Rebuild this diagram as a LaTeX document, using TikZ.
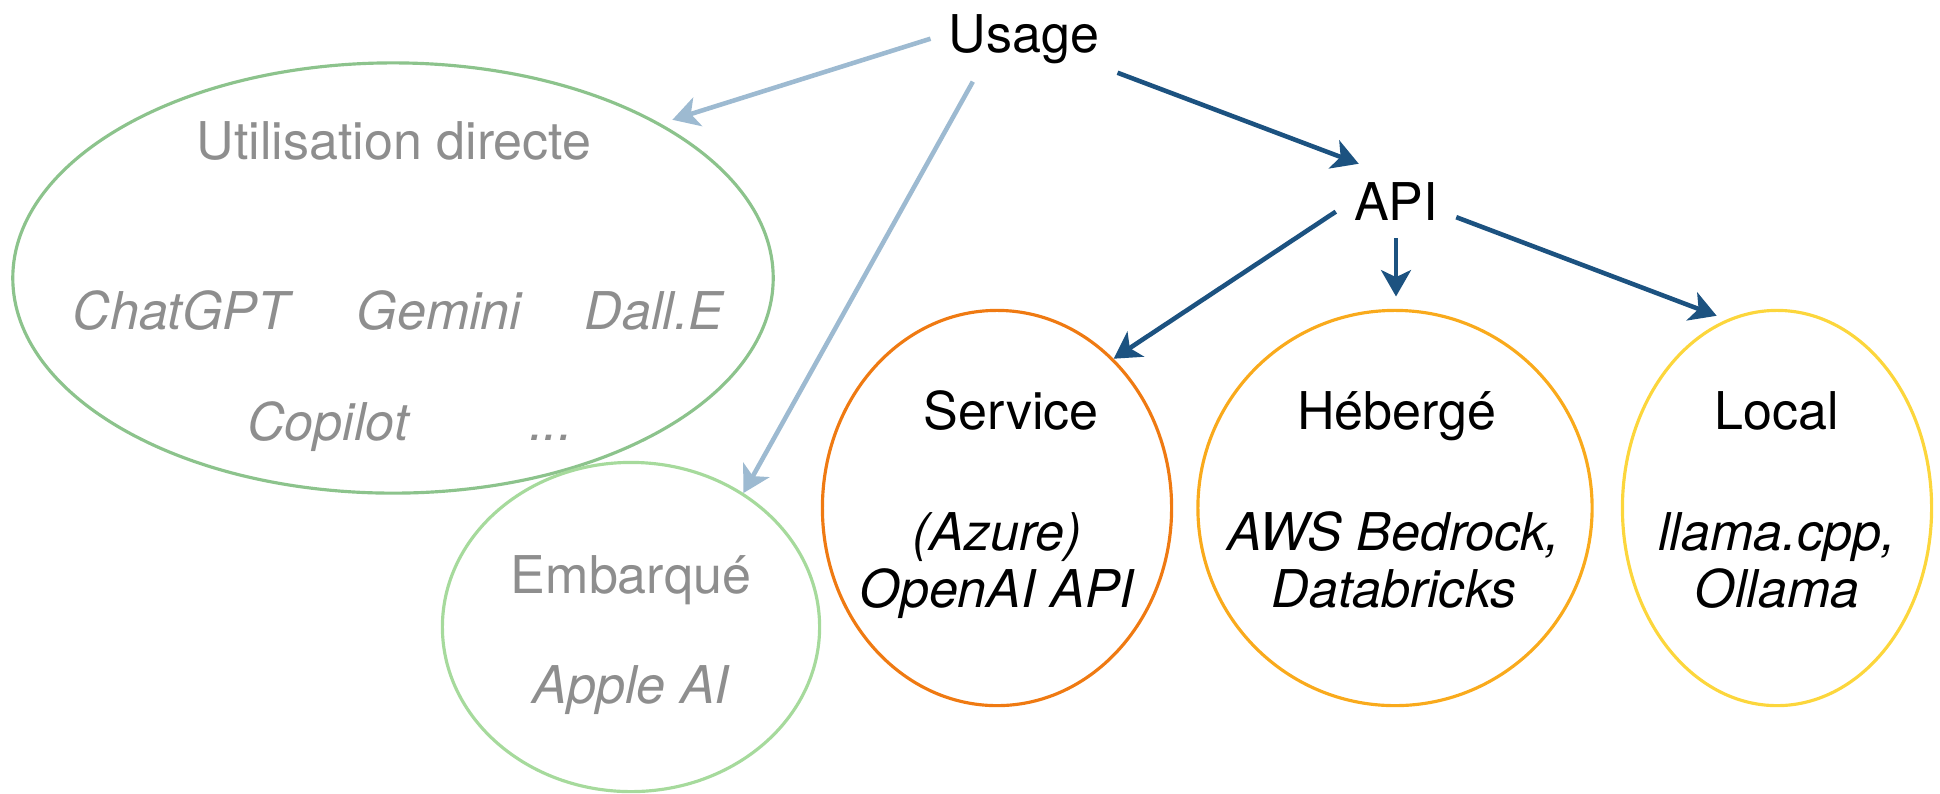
\documentclass[tikz,border=0pt]{standalone}
\usepackage{fontspec}
\setmainfont{TeX Gyre Heros}
\usetikzlibrary{shapes.geometric,arrows.meta}
\definecolor{txtgrey}{HTML}{8E8E8E}
\definecolor{directgreen}{HTML}{8CC38C}
\definecolor{embgreen}{HTML}{A6DA9C}
\definecolor{servorange}{HTML}{EF7A12}
\definecolor{hostorange}{HTML}{F9AA1C}
\definecolor{localyellow}{HTML}{FCD63C}
\definecolor{arrowlight}{HTML}{9DBAD1}
\definecolor{arrowdark}{HTML}{1C5280}

\begin{document}
\begin{tikzpicture}[x=0.01cm,y=-0.01cm,
  lbl/.style={font=\fontsize{14.8}{16.2}\selectfont,anchor=base,align=center,inner sep=0pt},
  faint/.style={lbl,text=txtgrey},
  slant/.style={font=\fontsize{14.8}{16.2}\selectfont\itshape},
  head/.style={font=\fontsize{14.8}{16.2}\selectfont,anchor=base,inner sep=5pt},
  ring/.style={ellipse,draw=#1,line width=0.9pt,inner sep=0pt},
  lite/.style={-{Stealth[length=7.5pt,width=8.5pt,inset=2pt]},draw=arrowlight,line width=1.3pt},
  dark/.style={-{Stealth[length=7.5pt,width=8.5pt,inset=2pt]},draw=arrowdark,line width=1.3pt}]
\useasboundingbox (0,0) rectangle (1940,793);

\node[ring=directgreen,minimum width=7.6cm,minimum height=4.3cm] (util) at (393,278) {};
\node[ring=embgreen,minimum width=3.77cm,minimum height=3.29cm] (emb) at (631,627) {};
\node[ring=servorange,minimum width=3.49cm,minimum height=3.95cm] (service) at (997,508) {};
\node[ring=hostorange,minimum width=3.94cm,minimum height=3.95cm] (hosted) at (1395,508) {};
\node[ring=localyellow,minimum width=3.09cm,minimum height=3.95cm] (local) at (1777,508) {};

\node[head] (usage) at (1024,52) {Usage};
\node[head] (api) at (1396,220) {API};

\node[faint] (utiltitle) at (394,159) {Utilisation directe};
\node[faint,slant] (chatgpt) at (181,329) {ChatGPT};
\node[faint,slant] (gemini) at (439,329) {Gemini};
\node[faint,slant] (dalle) at (654,329) {Dall.E};
\node[faint,slant] (copilot) at (328,440) {Copilot};
\node[faint,slant] (more) at (551,440) {...};
\node[faint] (embtitle) at (631,593) {Embarqué};
\node[faint,slant] (apple) at (631,703) {Apple AI};

\node[lbl] (servtitle) at (1011,429) {Service};
\node[lbl,slant] (servtext) at (997,607) {(Azure)\\OpenAI API};
\node[lbl] (hosttitle) at (1397,429) {Hébergé};
\node[lbl,slant] (hosttext) at (1394,607) {AWS Bedrock,\\Databricks};
\node[lbl] (localtitle) at (1777,429) {Local};
\node[lbl,slant] (localtext) at (1777,607) {llama.cpp,\\Ollama};

\draw[lite,shorten >=3.5pt] (usage.west) -- (util.30);
\draw[lite] (usage.-140) -- (emb.50);
\draw[dark] (usage.-20) -- (api.135);
\draw[dark] (api.190) -- (service.52);
\draw[dark,shorten >=3.5pt] (api.south) -- (api.south |- hosted.north);
\draw[dark,shorten >=3pt] (api.-15) -- (local.105);
\end{tikzpicture}
\end{document}
